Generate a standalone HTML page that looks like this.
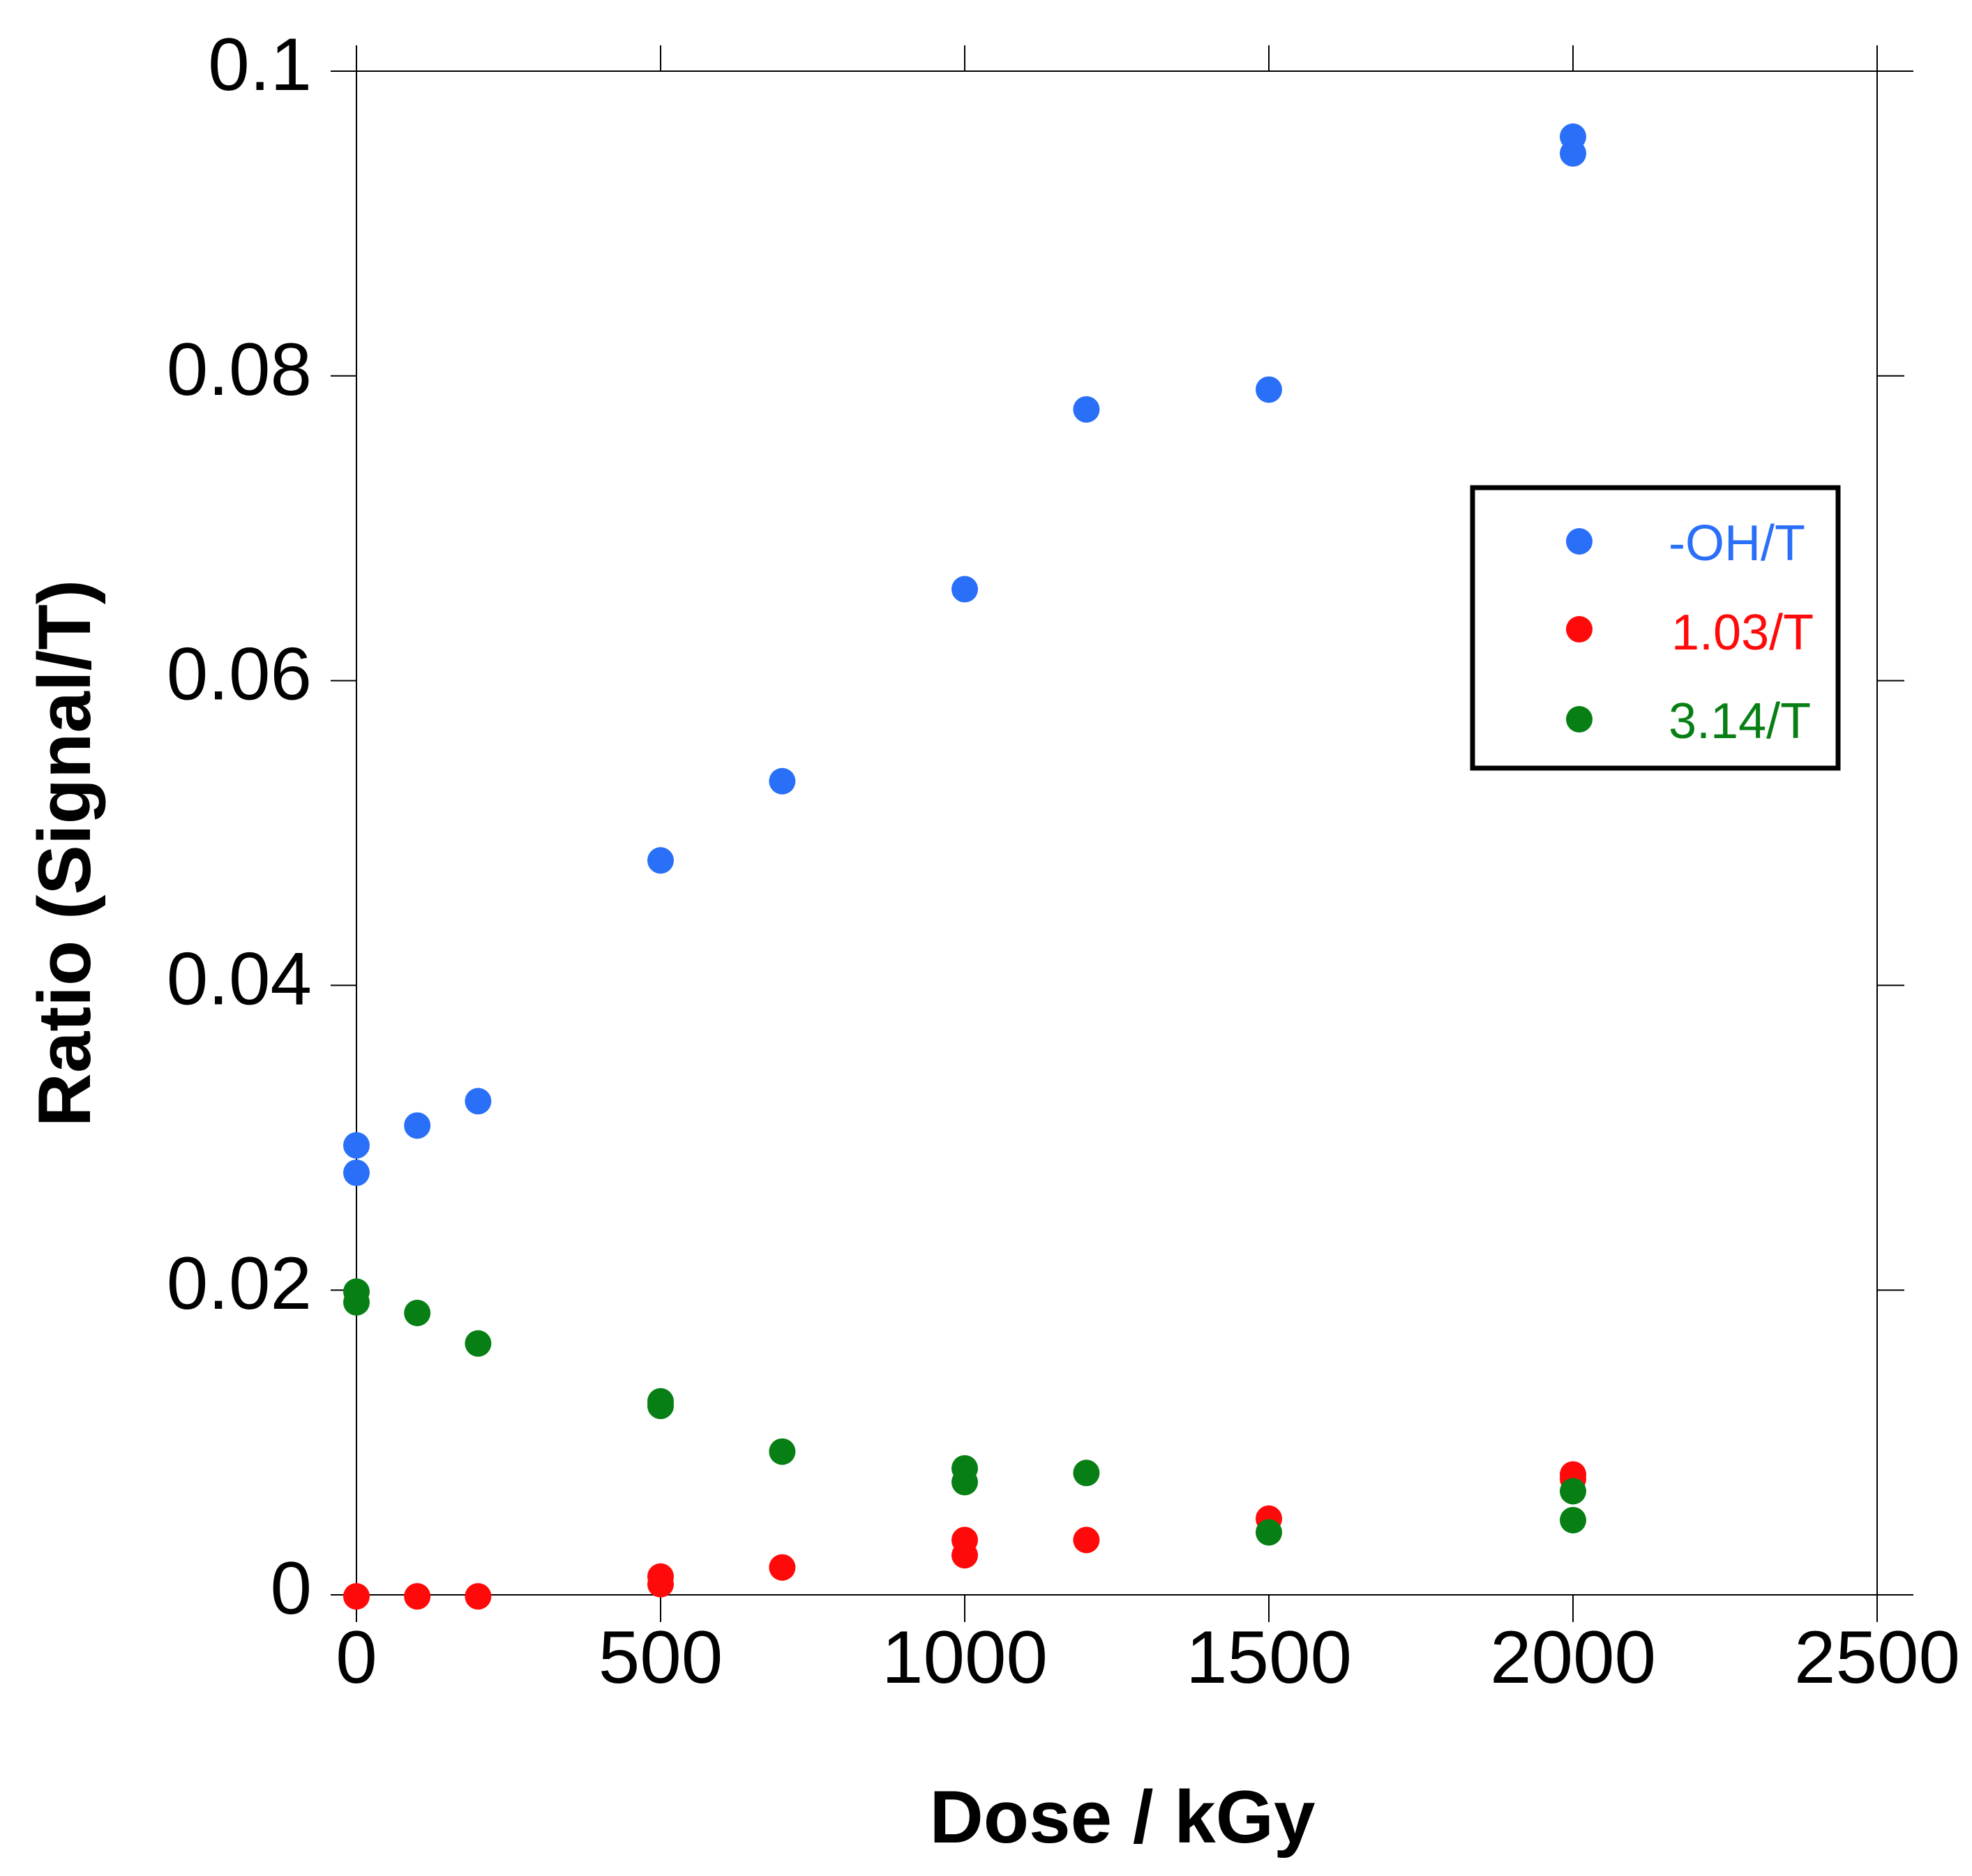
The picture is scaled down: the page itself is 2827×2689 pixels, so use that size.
<!DOCTYPE html>
<html><head><meta charset="utf-8"><style>
html,body{margin:0;padding:0;background:#fff;}
svg{display:block;font-family:"Liberation Sans",Arial,sans-serif;}
</style></head><body>
<svg id="chart" width="2827" height="2689" viewBox="0 0 2827 2689" xmlns="http://www.w3.org/2000/svg">
<g id="axes"></g>
<g id="marks"></g>
<text x="1609" y="2641" font-size="107" font-weight="bold" text-anchor="middle">Dose / kGy</text>
<text transform="translate(129,1223) rotate(-90)" font-size="107" font-weight="bold" text-anchor="middle">Ratio (Signal/T)</text>
<g>
<rect x="2111" y="699" width="524" height="402" fill="#fff" stroke="#000" stroke-width="7"/>
<circle cx="2264" cy="776" r="19" fill="#2a6ff7"/>
<text x="2392" y="803" font-size="72" fill="#2a6ff7">-OH/T</text>
<circle cx="2264" cy="902" r="19" fill="#ff0a0a"/>
<text x="2396" y="931" font-size="72" fill="#ff0a0a">1.03/T</text>
<circle cx="2264" cy="1031" r="19" fill="#077f14"/>
<text x="2392" y="1058" font-size="72" fill="#077f14">3.14/T</text>
</g>
</svg>
<script>
const xTicks = [0, 500, 1000, 1500, 2000, 2500];
const yTicks = [0, 0.02, 0.04, 0.06, 0.08, 0.1];
const yTickLabels = ["0", "0.02", "0.04", "0.06", "0.08", "0.1"];
const ohX = [0, 0, 100, 200, 500, 700, 1000, 1200, 1500, 2000, 2000];
const ohY = [0.0295, 0.0277, 0.0308, 0.0324, 0.0482, 0.0534, 0.0660, 0.0778, 0.0791, 0.0957, 0.0946];
const redX = [0, 100, 200, 500, 500, 700, 1000, 1000, 1200, 1500, 2000, 2000];
const redY = [-0.0001, -0.0001, -0.0001, 0.0012, 0.0007, 0.0018, 0.0036, 0.0026, 0.0036, 0.0050, 0.0079, 0.0076];
const greenX = [0, 0, 100, 200, 500, 500, 700, 1000, 1000, 1200, 1500, 2000, 2000];
const greenY = [0.0199, 0.0192, 0.0185, 0.0165, 0.0127, 0.0124, 0.0094, 0.0083, 0.0074, 0.0080, 0.0041, 0.0068, 0.0049];

const NS = "http://www.w3.org/2000/svg";
const X0 = 511, X1 = 2691, Y0 = 2286, Y1 = 102;
function sx(v){ return X0 + (v - 0) / 2500 * (X1 - X0); }
function sy(v){ return Y0 - (v - 0) / 0.1 * (Y0 - Y1); }
function mk(tag, attrs, parent){
  const e = document.createElementNS(NS, tag);
  for (const k in attrs) e.setAttribute(k, attrs[k]);
  parent.appendChild(e);
  return e;
}
const axes = document.getElementById('axes');
const marks = document.getElementById('marks');
let l;
l = mk('line', {x1: X0, y1: Y1, x2: X0, y2: Y0, stroke: '#000', 'stroke-width': 2}, axes);


l = mk('line', {x1: X1, y1: Y1, x2: X1, y2: Y0, stroke: '#000', 'stroke-width': 2}, axes);


l = mk('line', {x1: 474, y1: Y0, x2: 2743, y2: Y0, stroke: '#000', 'stroke-width': 2}, axes);


l = mk('line', {x1: 474, y1: Y1, x2: 2743, y2: Y1, stroke: '#000', 'stroke-width': 2}, axes);



xTicks.forEach((t, i) => {
  const x = sx(t);
  let a = mk('line', {x1: x, y1: Y0, x2: x, y2: Y0 + 39, stroke: '#000', 'stroke-width': 2}, axes);
  
  
  let b = mk('line', {x1: x, y1: Y1, x2: x, y2: Y1 - 37, stroke: '#000', 'stroke-width': 2}, axes);
  
  
  const tx = mk('text', {x: x, y: 2412, 'font-size': 107, 'text-anchor': 'middle'}, axes);
  tx.textContent = String(t);
  
  
});
yTicks.forEach((t, i) => {
  const y = sy(t);
  let a = mk('line', {x1: X0 - 37, y1: y, x2: X0, y2: y, stroke: '#000', 'stroke-width': 2}, axes);
  
  
  let b = mk('line', {x1: X1, y1: y, x2: X1 + 39, y2: y, stroke: '#000', 'stroke-width': 2}, axes);
  
  
  const tx = mk('text', {x: 447, y: y + 27, 'font-size': 107, 'text-anchor': 'end'}, axes);
  tx.textContent = yTickLabels[i];
  
  
});
function series(xs, ys, color, name){
  xs.forEach((v, i) => {
    const c = mk('circle', {cx: sx(v), cy: sy(ys[i]), r: 19, fill: color}, marks);
    
    
  });
}
series(ohX, ohY, '#2a6ff7', 'point-oh');
series(redX, redY, '#ff0a0a', 'point-103');
series(greenX, greenY, '#077f14', 'point-314');
</script>
</body></html>
